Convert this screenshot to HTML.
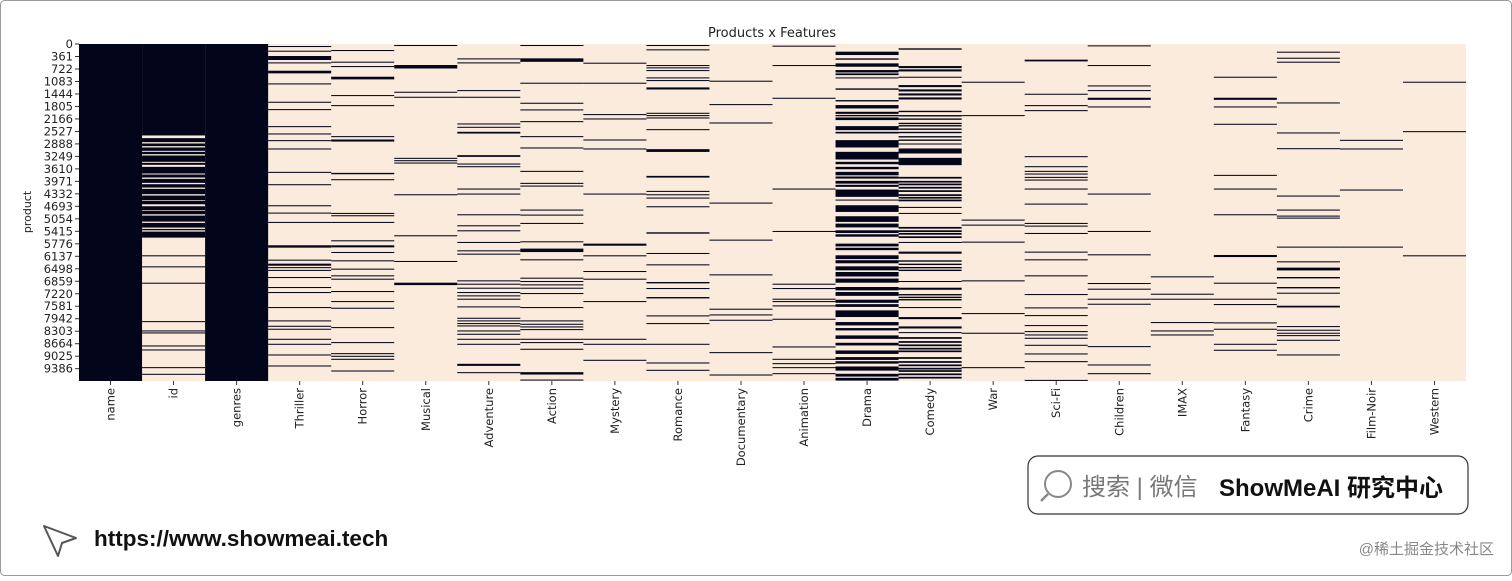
<!DOCTYPE html>
<html><head><meta charset="utf-8"><style>
html,body{margin:0;padding:0;background:#fff;}
body{width:1512px;height:576px;overflow:hidden;font-family:"Liberation Sans","Noto Sans CJK SC",sans-serif;}
</style></head><body>
<svg id="chart" width="1512" height="576" viewBox="0 0 1512 576" xmlns="http://www.w3.org/2000/svg">
<rect x="0.5" y="0.5" width="1511" height="575" rx="4" fill="#fff" stroke="#9a9a9a"/>
<text x="772" y="37" text-anchor="middle" font-size="13" font-family="DejaVu Sans, sans-serif" fill="#222">Products x Features</text>
<text transform="translate(31,212) rotate(-90)" text-anchor="middle" font-size="11" font-family="DejaVu Sans, sans-serif" fill="#222">product</text>
<g id="cells"></g><g id="yticks"></g><g id="xticks"></g>
<g>
<rect x="1028" y="456" width="440" height="58" rx="10" fill="#fff" stroke="#333" stroke-width="1.2"/>
<circle cx="1058" cy="484" r="13" fill="none" stroke="#888" stroke-width="2"/>
<line x1="1048" y1="494" x2="1041" y2="501" stroke="#888" stroke-width="2.5"/>
<text x="1082" y="495" font-size="24" fill="#777">搜索 | 微信</text>
<text x="1219" y="496" font-size="24" font-weight="bold" fill="#111">ShowMeAI 研究中心</text>
</g>
<g><path d="M44 526 L76 538 L62 543 L58 556 Z" fill="none" stroke="#555" stroke-width="2" stroke-linejoin="round"/></g>
<text x="94" y="546" font-size="22.5" font-weight="bold" fill="#111">https://www.showmeai.tech</text>
<text x="1494" y="554" text-anchor="end" font-size="15" fill="#888">@稀土掘金技术社区</text>
</svg>
<script>
const NROWS = 9742;
const features = ["name","id","genres","Thriller","Horror","Musical","Adventure","Action","Mystery","Romance","Documentary","Animation","Drama","Comedy","War","Sci-Fi","Children","IMAX","Fantasy","Crime","Film-Noir","Western"];
const yTickLabels = [0,361,722,1083,1444,1805,2166,2527,2888,3249,3610,3971,4332,4693,5054,5415,5776,6137,6498,6859,7220,7581,7942,8303,8664,9025,9386];
// dark row runs per feature: [startRow, lengthRows]; single numbers = thin line (30 rows)
const colName = [[0,9742]];
const colId = [[0,2644],[2721,116],[2876,77],[2991,97],[3117,68],[3223,183],[3435,58],[3551,193],[3773,87],[3899,116],[4053,97],[4188,154],[4381,135],[4536,97],[4690,116],[4825,97],[4960,174],[5172,135],[5346,39],[5423,174],6108,6427,6900,8010,8280,8338,8714,8830,9341,9534];
const colGenres = [[0,9742]];
const colThriller = [58,193,[347,116],531,[772,77],1139,1669,1882,2374,2586,2779,3020,3696,4053,4661,4873,5143,[5819,68],6234,[6350,60],6450,6530,6736,7025,7170,7604,7990,8145,8231,8521,8666,8975,9293];
const colHorror = [174,511,637,[946,77],1476,1766,2663,[2760,60],[3725,40],3908,4883,4950,5143,5674,[5819,60],6012,6253,6494,6687,6784,7141,7431,7624,8183,8617,8936,9013,9100,9438];
const colMusical = [29,[608,100],1380,1525,3291,3358,3426,4343,5529,6272,[6900,70]];
const colAdventure = [415,531,1332,1525,2297,2393,[2538,50],[3213,50],3455,3532,4178,4323,4922,5240,5385,5722,5964,6060,6832,6929,7045,7170,7266,7363,7585,7913,7990,8067,8135,8280,8376,8521,8666,[9245,60],9486];
const colAction = [29,[415,100],1119,1698,1891,2229,2663,2991,3667,4014,4092,4786,4931,5172,5703,[5915,100],6224,6755,6851,6948,7045,7199,7604,7990,8087,8164,8241,8521,8617,8810,[9486,70],9700];
const colMystery = [540,1119,2026,2152,2760,3020,4323,[5771,60],6108,6562,6784,7431,8521,8666,9129];
const colRomance = [29,154,608,675,753,965,1042,[1255,60],1988,2055,2123,2461,[3040,80],[3812,50],4246,4343,4439,4690,[5443,40],6041,6369,[6880,40],7054,[7315,40],7845,8067,8666,9206,9418];
const colDocumentary = [1061,1737,2268,4584,5655,6659,7652,7817,7971,8907,9554];
const colAnimation = [48,608,1554,4178,5404,6929,7054,7363,7431,7556,7942,8743,9100,9225,9341,9515];
const colDrama = [[222,97],[415,40],[560,97],[753,70],[850,50],965,[1283,40],[1621,40],[1766,97],[1959,60],[2050,40],[2123,77],[2374,116],[2538,48],[2779,212],[3117,222],[3406,70],[3551,70],[3696,100],[3830,60],[3956,80],[4070,60],[4207,212],4497,[4661,193],[4979,164],[5192,110],[5385,80],[5500,70],[5771,80],[5890,70],[6108,110],[6250,90],[6427,116],[6591,130],[6780,120],[7025,97],[7170,110],[7392,90],[7520,80],[7700,193],[8038,97],[8212,68],[8424,100],[8637,77],[8859,100],[9052,80],[9170,70],[9322,120],[9534,80],[9650,80]];
const colComedy = [[125,40],[637,60],[733,60],946,[1187,60],[1312,60],[1428,60],[1544,60],[1930,40],[2055,40],[2152,40],[2277,40],[2345,40],[2442,40],[2538,40],[2663,40],[2760,40],2876,[3020,145],[3291,212],[3841,50],[3956,50],[4034,50],[4130,50],[4227,50],[4343,50],[4420,50],[4497,50],4709,4883,[5288,50],[5385,50],[5462,50],[5559,50],5722,[6002,60],[6253,40],[6350,40],[6446,40],[6523,40],6851,[7045,60],[7228,40],[7305,40],[7373,40],7604,[7894,60],[8164,60],8328,[8473,50],[8589,50],[8685,50],[8782,50],[8859,50],[9052,50],[9167,50],[9264,50],[9360,50],[9428,50],[9524,50],[9621,50]];
const colWar = [1090,2055,5076,5221,5713,6832,7778,8347,9341];
const colSciFi = [[453,50],1438,1766,1911,3242,3532,3667,3744,3841,3918,4178,4613,5172,5250,5462,6002,6224,6687,7228,7614,7836,8125,8299,8396,8492,8695,8945,9167,9710];
const colChildren = [39,608,1197,1332,[1554,60],1805,4323,5404,6079,6909,7073,7363,7508,8733,9264,9515];
const colIMAX = [6716,7218,7363,8038,8280,8396];
const colFantasy = [946,[1554,60],1805,2306,3783,4178,4921,[6099,60],6900,7363,7517,8048,8231,8666,8839];
const colCrime = [222,396,511,1689,2557,3011,4381,4786,4960,5018,5857,6282,[6465,80],[6736,40],[7025,40],7189,[7566,50],8154,8260,8347,8415,8550,8974];
const colFilmNoir = [2770,3020,4207,5857];
const colWestern = [1090,2519,6108];
const columns = [colName,colId,colGenres,colThriller,colHorror,colMusical,colAdventure,colAction,colMystery,colRomance,colDocumentary,colAnimation,colDrama,colComedy,colWar,colSciFi,colChildren,colIMAX,colFantasy,colCrime,colFilmNoir,colWestern];

const X0=79, X1=1466, Y0=44, Y1=381;
const colW = (X1-X0)/features.length;
const xOf = i => X0 + i*colW;
const yOf = r => Y0 + r/NROWS*(Y1-Y0);
const NS="http://www.w3.org/2000/svg";
const DARK="#03051a", LIGHT="#faebdd";
const cells=document.getElementById('cells');
const bg=document.createElementNS(NS,'rect');
bg.setAttribute('x',X0);bg.setAttribute('y',Y0);bg.setAttribute('width',X1-X0);bg.setAttribute('height',Y1-Y0);bg.setAttribute('fill',LIGHT);


cells.appendChild(bg);
columns.forEach((runs,ci)=>{
  runs.forEach(run=>{
    const s = Array.isArray(run)?run[0]:run;
    const len = Array.isArray(run)?run[1]:30;
    const y=yOf(s), h=Math.max(1, yOf(s+len)-y);
    const r=document.createElementNS(NS,'rect');
    r.setAttribute('x',xOf(ci).toFixed(2));r.setAttribute('y',y.toFixed(2));
    r.setAttribute('width',colW.toFixed(2));r.setAttribute('height',h.toFixed(2));
    r.setAttribute('fill',DARK);
    
    
    cells.appendChild(r);
  });
});
const yt=document.getElementById('yticks');
yTickLabels.forEach(v=>{
  const y=yOf(v);
  const l=document.createElementNS(NS,'line');
  l.setAttribute('x1',X0-4);l.setAttribute('x2',X0);l.setAttribute('y1',y);l.setAttribute('y2',y);l.setAttribute('stroke','#333');
  
  
  yt.appendChild(l);
  const t=document.createElementNS(NS,'text');
  t.setAttribute('x',X0-6);t.setAttribute('y',y+4);t.setAttribute('text-anchor','end');t.setAttribute('font-size','11.5');t.setAttribute('font-family','DejaVu Sans, sans-serif');t.setAttribute('fill','#222');
  t.textContent=v;
  
  
  yt.appendChild(t);
});
const xt=document.getElementById('xticks');
features.forEach((f,i)=>{
  const x=xOf(i)+colW/2;
  const l=document.createElementNS(NS,'line');
  l.setAttribute('x1',x);l.setAttribute('x2',x);l.setAttribute('y1',Y1);l.setAttribute('y2',Y1+4);l.setAttribute('stroke','#333');
  
  
  xt.appendChild(l);
  const t=document.createElementNS(NS,'text');
  t.setAttribute('transform','translate('+(x+4)+','+(Y1+7)+') rotate(-90)');
  t.setAttribute('text-anchor','end');t.setAttribute('font-size','11.5');t.setAttribute('font-family','DejaVu Sans, sans-serif');t.setAttribute('fill','#222');
  t.textContent=f;
  
  
  xt.appendChild(t);
});
</script>
</body></html>
